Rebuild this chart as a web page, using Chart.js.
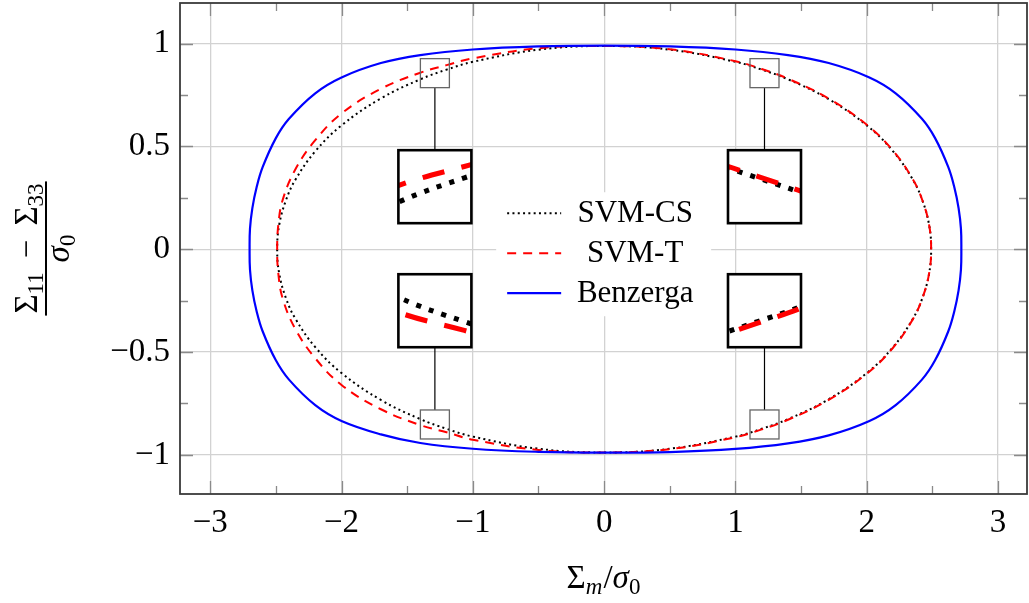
<!DOCTYPE html>
<html>
<head>
<meta charset="utf-8">
<script src="https://cdn.jsdelivr.net/npm/chart.js@4.4.0/dist/chart.umd.min.js"></script>
<style>
  html, body { margin: 0; padding: 0; background: #fff; }
  #wrap { width: 1029px; height: 603px; }
</style>
</head>
<body>
<div id="wrap"><canvas id="myChart"></canvas></div>
<script>
// closed curves, going round from the right tip (upper half first)
// SVM-CS (black dotted)
var csX = [2.49, 2.474, 2.422, 2.35, 2.20, 2.00, 1.70, 1.40, 1.20, 1.00, 0.50, 0, -0.50, -1.00, -1.20, -1.40, -1.70, -2.00, -2.20, -2.35, -2.422, -2.474, -2.49,
           -2.474, -2.422, -2.35, -2.20, -2.00, -1.70, -1.40, -1.20, -1.00, -0.50, 0, 0.50, 1.00, 1.20, 1.40, 1.70, 2.00, 2.20, 2.35, 2.422, 2.474];
var csY = [0, 0.12, 0.24, 0.339, 0.476, 0.602, 0.733, 0.826, 0.873, 0.911, 0.970, 0.988, 0.970, 0.911, 0.873, 0.826, 0.733, 0.602, 0.476, 0.339, 0.24, 0.12, 0,
           -0.12, -0.24, -0.339, -0.476, -0.602, -0.733, -0.826, -0.873, -0.911, -0.970, -0.988, -0.970, -0.911, -0.873, -0.826, -0.733, -0.602, -0.476, -0.339, -0.24, -0.12];

// SVM-T (red dashed)
var tX = [2.49, 2.474, 2.422, 2.35, 2.20, 2.00, 1.70, 1.40, 1.20, 1.00, 0.50, 0, -0.50, -1.00, -1.20, -1.40, -1.70, -2.00, -2.20, -2.35, -2.448, -2.481, -2.49,
          -2.481, -2.448, -2.35, -2.20, -2.00, -1.70, -1.40, -1.20, -1.00, -0.50, 0, 0.50, 1.00, 1.20, 1.40, 1.70, 2.00, 2.20, 2.35, 2.422, 2.474];
var tY = [0, 0.12, 0.24, 0.341, 0.479, 0.605, 0.736, 0.829, 0.876, 0.914, 0.972, 0.988, 0.977, 0.928, 0.895, 0.858, 0.780, 0.660, 0.530, 0.390, 0.24, 0.12, 0,
          -0.12, -0.24, -0.390, -0.530, -0.660, -0.778, -0.855, -0.890, -0.926, -0.976, -0.988, -0.972, -0.914, -0.876, -0.829, -0.736, -0.605, -0.479, -0.341, -0.24, -0.12];

// Benzerga (blue solid)
var bzX = [2.72, 2.717, 2.699, 2.667, 2.62, 2.52, 2.42, 2.22, 2.02, 1.71, 1.40, 1.00, 0.50, 0, -0.50, -1.00, -1.40, -1.70, -2.00, -2.20, -2.40, -2.50, -2.60, -2.647, -2.679, -2.697, -2.70,
           -2.697, -2.679, -2.647, -2.60, -2.50, -2.40, -2.20, -2.00, -1.70, -1.40, -1.00, -0.50, 0, 0.50, 1.00, 1.40, 1.71, 2.02, 2.22, 2.42, 2.52, 2.62, 2.667, 2.699, 2.717];
var bzY = [0, 0.10, 0.20, 0.30, 0.40, 0.54, 0.634, 0.758, 0.835, 0.905, 0.944, 0.971, 0.986, 0.990, 0.986, 0.971, 0.944, 0.905, 0.835, 0.758, 0.634, 0.54, 0.40, 0.30, 0.20, 0.10, 0,
           -0.10, -0.20, -0.30, -0.40, -0.54, -0.634, -0.758, -0.835, -0.900, -0.942, -0.970, -0.985, -0.989, -0.986, -0.971, -0.944, -0.905, -0.835, -0.758, -0.634, -0.54, -0.40, -0.30, -0.20, -0.10];

var labels = ['SVM-CS', 'SVM-T', 'Benzerga'];
var xTicks = [-3, -2, -1, 0, 1, 2, 3];
var yTicks = [-1, -0.5, 0, 0.5, 1];
var xMinor = [-2.5, -1.5, -0.5, 0.5, 1.5, 2.5];
var yMinor = [-0.75, -0.25, 0.25, 0.75];

// zoom insets: small window centre, big box centre (data units)
var spies = [
  { x: -1.289, y: 0.856, by: 0.304 },
  { x: 1.221, y: 0.856, by: 0.304 },
  { x: -1.289, y: -0.852, by: -0.299 },
  { x: 1.221, y: -0.852, by: -0.299 }
];
var spySmall = 29, spyBig = 73;

var FONT = '"Liberation Serif", "DejaVu Serif", serif';

function pts(xs, ys) {
  return xs.map(function (x, i) { return { x: x, y: ys[i] }; });
}
function fmt(v) {
  return String(v).replace('-', '\u2212');
}

function drawPieces(ctx, pieces, x, y, align) {
  var w = 0;
  pieces.forEach(function (p) { ctx.font = p.f; w += ctx.measureText(p.t).width + (p.gap || 0); });
  var cx = align === 'center' ? x - w / 2 : x;
  ctx.textAlign = 'left';
  ctx.textBaseline = 'alphabetic';
  pieces.forEach(function (p) {
    ctx.font = p.f;
    ctx.fillText(p.t, cx, y + (p.dy || 0));
    cx += ctx.measureText(p.t).width + (p.gap || 0);
  });
  return w;
}

var framePlugin = {
  id: 'frame',
  afterDatasetsUpdate: function (chart) {
    // the curves are closed loops
    chart.getSortedVisibleDatasetMetas().forEach(function (m) {
      var line = m.dataset;
      line._loop = true;
      line._pointsUpdated = false;
      delete line._segments;
      delete line._path;
    });
  },
  beforeDatasetsDraw: function (chart) {
    var ctx = chart.ctx, a = chart.chartArea, xs = chart.scales.x, ys = chart.scales.y;
    ctx.save();
    ctx.strokeStyle = '#8a8a8a';
    ctx.lineWidth = 1.3;
    ctx.beginPath();
    xTicks.forEach(function (v) {
      var px = Math.round(xs.getPixelForValue(v)) + 0.5;
      ctx.moveTo(px, a.bottom); ctx.lineTo(px, a.bottom - 13);
      ctx.moveTo(px, a.top); ctx.lineTo(px, a.top + 13);
    });
    yTicks.forEach(function (v) {
      var py = Math.round(ys.getPixelForValue(v)) + 0.5;
      ctx.moveTo(a.left, py); ctx.lineTo(a.left + 13, py);
      ctx.moveTo(a.right, py); ctx.lineTo(a.right - 13, py);
    });
    xMinor.forEach(function (v) {
      var px = Math.round(xs.getPixelForValue(v)) + 0.5;
      ctx.moveTo(px, a.bottom); ctx.lineTo(px, a.bottom - 8);
      ctx.moveTo(px, a.top); ctx.lineTo(px, a.top + 8);
    });
    yMinor.forEach(function (v) {
      var py = Math.round(ys.getPixelForValue(v)) + 0.5;
      ctx.moveTo(a.left, py); ctx.lineTo(a.left + 8, py);
      ctx.moveTo(a.right, py); ctx.lineTo(a.right - 8, py);
    });
    ctx.stroke();
    ctx.strokeStyle = '#3a3a3a';
    ctx.lineWidth = 1.8;
    ctx.strokeRect(a.left, a.top, a.right - a.left, a.bottom - a.top);
    ctx.restore();
  },
  afterDatasetsDraw: function (chart) {
    var ctx = chart.ctx, xs = chart.scales.x, ys = chart.scales.y;
    var metas = chart.getSortedVisibleDatasetMetas();
    var h = spySmall / 2, H = spyBig / 2, k = spyBig / spySmall;
    spies.forEach(function (s) {
      var sx = xs.getPixelForValue(s.x), sy = ys.getPixelForValue(s.y);
      var by = ys.getPixelForValue(s.by);
      ctx.save();
      ctx.strokeStyle = '#000';
      ctx.lineWidth = 1.2;
      ctx.beginPath();
      if (by < sy) { ctx.moveTo(sx, sy - h); ctx.lineTo(sx, by + H); }
      else { ctx.moveTo(sx, sy + h); ctx.lineTo(sx, by - H); }
      ctx.stroke();
      ctx.strokeStyle = '#666';
      ctx.lineWidth = 1.3;
      ctx.strokeRect(sx - h, sy - h, 2 * h, 2 * h);
      ctx.fillStyle = '#fff';
      ctx.fillRect(sx - H, by - H, 2 * H, 2 * H);
      ctx.beginPath();
      ctx.rect(sx - H, by - H, 2 * H, 2 * H);
      ctx.clip();
      ctx.translate(sx, by);
      ctx.scale(k, k);
      ctx.translate(-sx, -sy);
      for (var i = metas.length - 1; i >= 0; i--) {
        metas[i].dataset.draw(ctx, chart.chartArea);
      }
      ctx.restore();
      ctx.save();
      ctx.strokeStyle = '#000';
      ctx.lineWidth = 2.6;
      ctx.strokeRect(sx - H, by - H, 2 * H, 2 * H);
      ctx.restore();
    });

    // legend in the middle of the plot
    var lx = xs.getPixelForValue(0), ly = ys.getPixelForValue(0);
    ctx.save();
    ctx.fillStyle = '#fff';
    ctx.fillRect(lx - 108, ly - 57, 215, 124);
    var sets = chart.data.datasets;
    [0, 1, 2].forEach(function (i) {
      var d = sets[i], rowY = ly - 36 + i * 40;
      ctx.strokeStyle = d.borderColor;
      ctx.lineWidth = d.borderWidth;
      ctx.setLineDash(d.borderDash || []);
      ctx.beginPath();
      ctx.moveTo(lx - 97, rowY);
      ctx.lineTo(lx - 43, rowY);
      ctx.stroke();
      ctx.setLineDash([]);
      ctx.fillStyle = '#000';
      ctx.font = '31px ' + FONT;
      ctx.textAlign = 'center';
      ctx.textBaseline = 'middle';
      ctx.fillText(d.label, lx + 31, rowY + 1);
    });
    ctx.restore();
  },
  afterDraw: function (chart) {
    var ctx = chart.ctx, a = chart.chartArea;
    var big = '33px ' + FONT, bigI = 'italic 33px ' + FONT, sub = '23px ' + FONT, subI = 'italic 23px ' + FONT;
    ctx.save();
    ctx.fillStyle = '#000';
    // x title
    drawPieces(ctx, [
      { t: '\u03A3', f: big },
      { t: 'm', f: subI, dy: 6, gap: 1 },
      { t: '/', f: big },
      { t: '\u03C3', f: bigI },
      { t: '0', f: sub, dy: 6 }
    ], (a.left + a.right) / 2, 588, 'center');
    // y title, a rotated fraction
    var cy = (a.top + a.bottom) / 2;
    ctx.translate(46, cy);
    ctx.rotate(-Math.PI / 2);
    var w = drawPieces(ctx, [
      { t: '\u03A3', f: big },
      { t: '11', f: sub, dy: 6, gap: 14 },
      { t: '\u2212', f: big, gap: 14 },
      { t: '\u03A3', f: big },
      { t: '33', f: sub, dy: 6 }
    ], 0, -9, 'center');
    ctx.fillRect(-w / 2 - 2, -1, w + 4, 2);
    drawPieces(ctx, [
      { t: '\u03C3', f: bigI },
      { t: '0', f: sub, dy: 6 }
    ], 0, 23, 'center');
    ctx.restore();
  }
};

var ctx = document.getElementById('myChart').getContext('2d');
var myChart = new Chart(ctx, {
  type: 'scatter',
  data: {
    datasets: [{
      label: labels[0],
      data: pts(csX, csY),
      showLine: true,
      spanGaps: true,
      borderColor: '#000000',
      borderWidth: 2,
      borderDash: [2, 3.3],
      pointRadius: 0,
      tension: 0.4,
      order: 3
    }, {
      label: labels[1],
      data: pts(tX, tY),
      showLine: true,
      spanGaps: true,
      borderColor: '#ff0000',
      borderWidth: 2,
      borderDash: [9, 7],
      pointRadius: 0,
      tension: 0.4,
      order: 2
    }, {
      label: labels[2],
      data: pts(bzX, bzY),
      showLine: true,
      spanGaps: true,
      borderColor: '#0000ff',
      borderWidth: 2.2,
      pointRadius: 0,
      tension: 0.4,
      order: 1
    }]
  },
  options: {
    responsive: true,
    maintainAspectRatio: false,
    animation: false,
    layout: { padding: { top: 3, right: 2, left: 0, bottom: 0 } },
    plugins: {
      legend: { display: false },
      tooltip: { enabled: false }
    },
    scales: {
      x: {
        type: 'linear',
        min: -3.23,
        max: 3.22,
        afterBuildTicks: function (scale) {
          scale.ticks = xTicks.map(function (v) { return { value: v }; });
        },
        afterFit: function (scale) {
          scale.height = 109;
          scale.paddingLeft = 0;
          scale.paddingRight = 0;
        },
        grid: { color: '#d2d2d2', lineWidth: 1.3, drawTicks: false },
        border: { display: false },
        ticks: {
          padding: 10,
          color: '#000',
          font: { family: FONT, size: 33 },
          maxRotation: 0,
          callback: function (v) { return fmt(v); }
        }
      },
      y: {
        type: 'linear',
        min: -1.19,
        max: 1.197,
        afterBuildTicks: function (scale) {
          scale.ticks = yTicks.map(function (v) { return { value: v }; });
        },
        afterFit: function (scale) {
          scale.width = 180;
          scale.paddingTop = 0;
          scale.paddingBottom = 0;
        },
        grid: { color: '#d2d2d2', lineWidth: 1.3, drawTicks: false },
        border: { display: false },
        ticks: {
          padding: 10,
          color: '#000',
          font: { family: FONT, size: 33 },
          callback: function (v) { return fmt(v); }
        }
      }
    }
  },
  plugins: [framePlugin]
});
</script>
</body>
</html>
